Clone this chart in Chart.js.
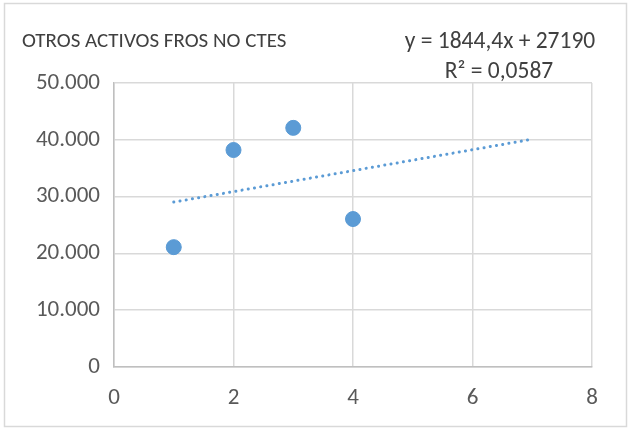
<!DOCTYPE html>
<html>
<head>
<meta charset="utf-8">
<script src="https://cdn.jsdelivr.net/npm/chart.js@4/dist/chart.umd.min.js"></script>
<style>
  html, body { margin: 0; padding: 0; background: #fff; }
  #wrap { width: 629px; height: 430px; position: relative; }
</style>
</head>
<body>
<div id="wrap"><canvas id="chart" width="629" height="430"></canvas></div>
<script>
// values
const xValues = [1, 2, 3, 4];
const yValues = [21100, 38200, 42100, 26050];

// trend line as printed on the chart, drawn from x=1 to x=7
const trendSlope = 1844.4;
const trendIntercept = 27190;
const trendX = [1, 7];

const chartTitle = 'OTROS ACTIVOS FROS NO CTES';
const eqLines = ['y = 1844,4x + 27190', 'R² = 0,0587'];

const FONT = "Calibri, Carlito, Lato, sans-serif";

document.addEventListener('DOMContentLoaded', () => {

    const points = xValues.map((x, i) => ({ x: x, y: yValues[i] }));
    const trend = trendX.map(x => ({ x: x, y: trendSlope * x + trendIntercept }));

    // border + title + equation
    const decor = {
        id: 'decor',
        beforeDraw(chart) {
            const c = chart.ctx;
            c.save();
            c.fillStyle = '#fff';
            c.fillRect(0, 0, chart.width, chart.height);
            c.strokeStyle = '#d9d9d9';
            c.lineWidth = 1.5;
            c.strokeRect(4.5, 3.5, 622, 423);
            c.restore();
        },
        afterDraw(chart) {
            const c = chart.ctx;
            c.save();
            c.fillStyle = '#404040';
            c.textBaseline = 'middle';
            c.textAlign = 'left';
            c.font = '21px ' + FONT;
            c.fillText(chartTitle, 22, 42);
            c.textAlign = 'center';
            c.font = '23.5px ' + FONT;
            c.fillText(eqLines[0], 500, 42);
            c.fillText(eqLines[1], 499, 72);
            c.restore();
        }
    };

    let ctx = document.getElementById('chart').getContext('2d');
    let myChart = new Chart(ctx, {
        type: 'scatter',
        data: {
            datasets: [{
                label: 'datos',
                data: points,
                backgroundColor: '#5b9bd5',
                borderColor: '#5b9bd5',
                pointRadius: 7.5,
                pointHoverRadius: 7.5,
                order: 1
            }, {
                label: 'tendencia',
                type: 'line',
                data: trend,
                borderColor: '#5b9bd5',
                borderWidth: 3,
                borderDash: [0.1, 6.2],
                borderCapStyle: 'round',
                pointRadius: 0,
                fill: false,
                order: 2
            }]
        },
        options: {
            responsive: false,
            animation: false,
            layout: { padding: { left: 0, top: 83, right: 37, bottom: 0 } },
            plugins: {
                legend: { display: false },
                tooltip: { enabled: false },
                title: { display: false }
            },
            scales: {
                x: {
                    type: 'linear',
                    min: 0,
                    max: 8,
                    afterFit: s => { s.height = 63; },
                    ticks: {
                        stepSize: 2,
                        color: '#595959',
                        font: { family: FONT, size: 23 },
                        padding: 17
                    },
                    grid: { color: '#d9d9d9', lineWidth: 1.5, drawTicks: false },
                    border: { color: '#bfbfbf', width: 1.5 }
                },
                y: {
                    min: 0,
                    max: 50000,
                    afterFit: s => { s.width = 114; },
                    ticks: {
                        stepSize: 10000,
                        color: '#595959',
                        font: { family: FONT, size: 23 },
                        padding: 14,
                        callback: v => v === 0 ? '0' : v.toLocaleString('es-ES').replace(/\s/g, '.')
                    },
                    grid: { color: '#d9d9d9', lineWidth: 1.5, drawTicks: false },
                    border: { color: '#bfbfbf', width: 1.5 }
                }
            }
        },
        plugins: [decor]
    });
});
</script>
</body>
</html>
